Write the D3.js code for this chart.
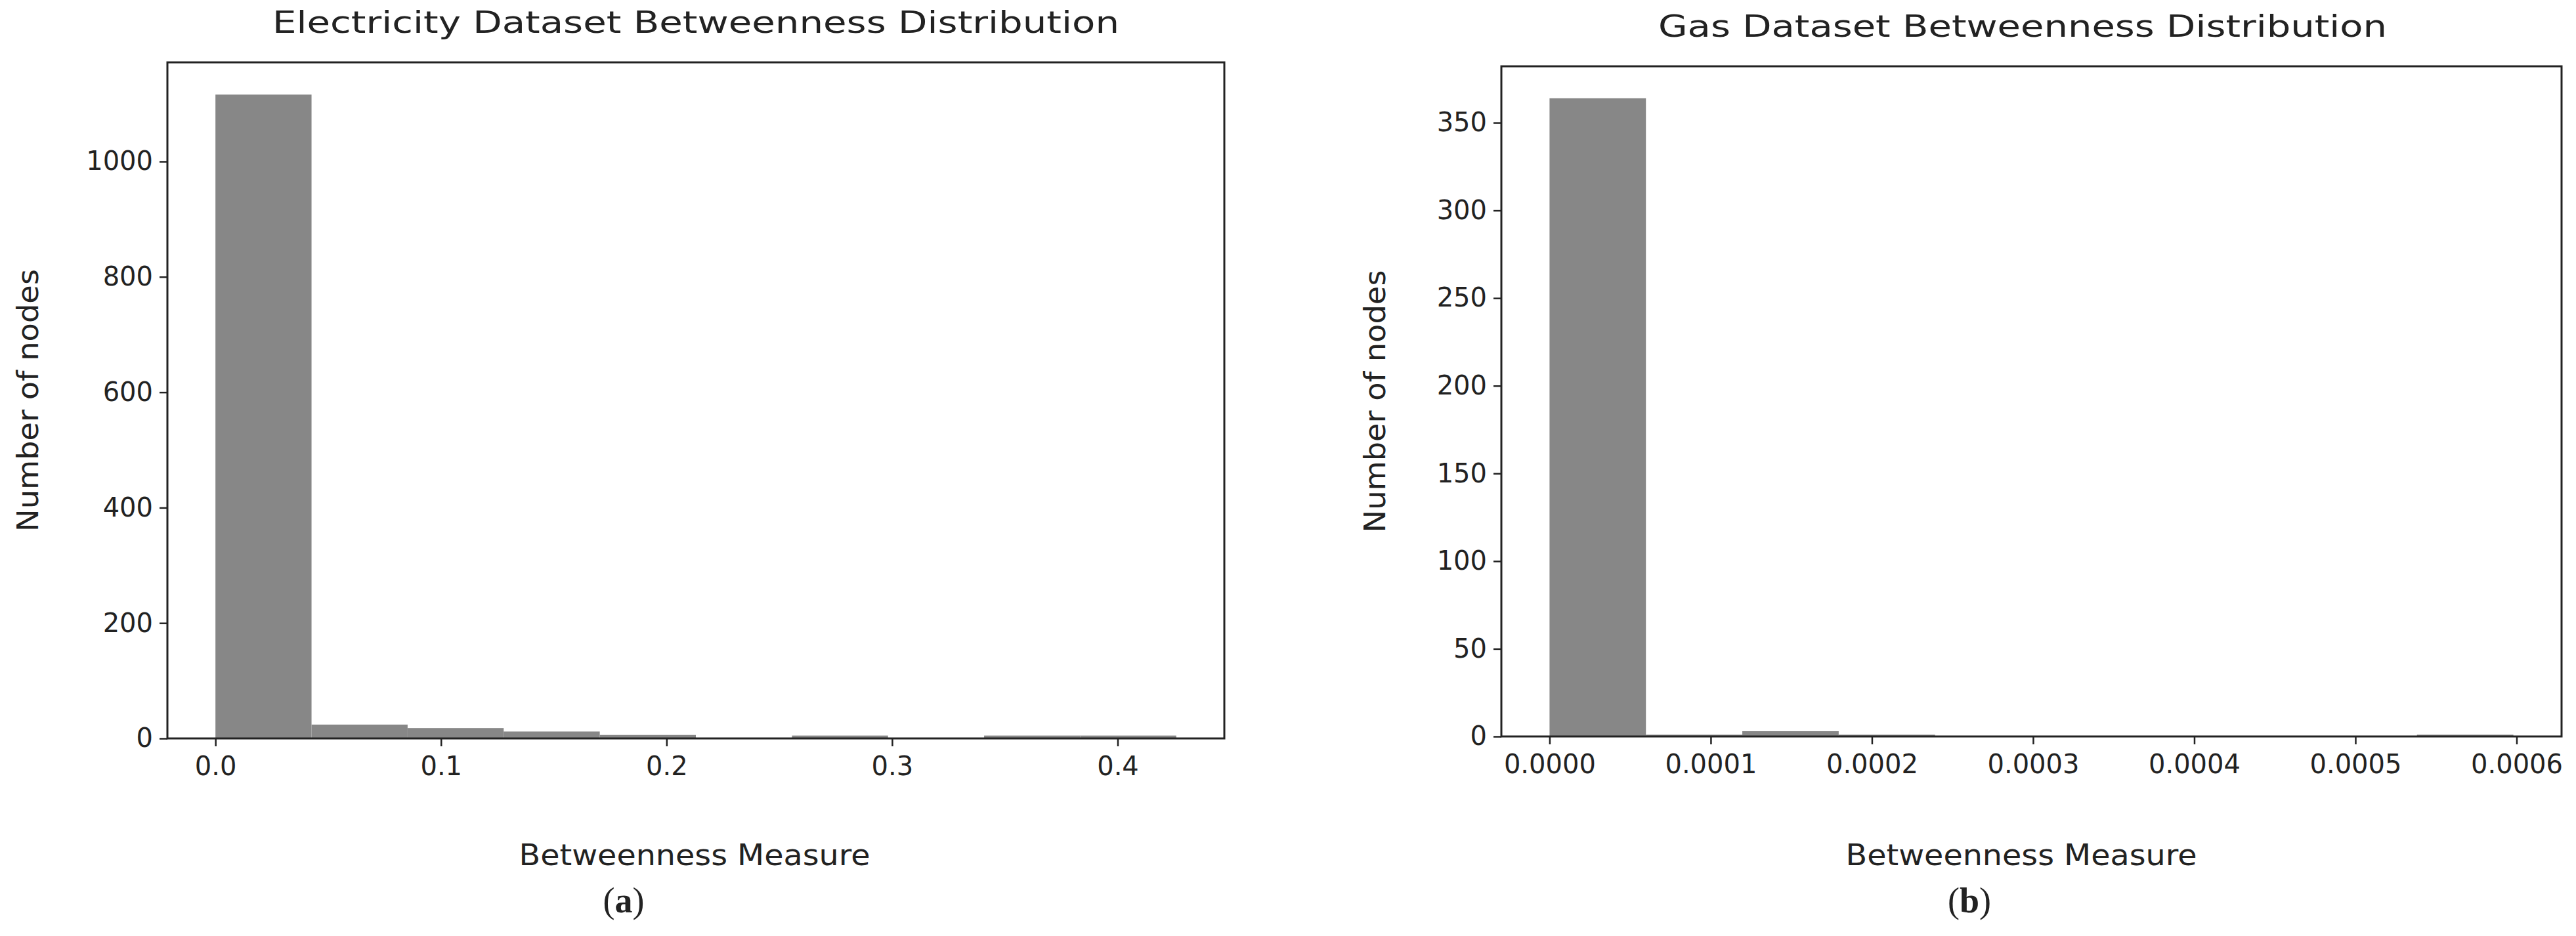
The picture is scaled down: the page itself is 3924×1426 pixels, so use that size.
<!DOCTYPE html><html><head><meta charset="utf-8">
<script src="https://cdn.jsdelivr.net/npm/d3@7"></script>
<style>body{margin:0;background:#fff}text{font-family:"DejaVu Sans";fill:#222}</style></head><body>
<svg id="c" width="3924" height="1426"></svg>
<script>
const elecCounts=[1116,24,18,12,6,1,5,1,5,5];
const elecMax=0.426;
const elecTicks=[0,0.1,0.2,0.3,0.4];
const elecYTicks=[0,200,400,600,800,1000];
const gasCounts=[364,1,3,1,0,0,0,0,0,1];
const gasMax=0.000598;
const gasTicks=[0,0.0001,0.0002,0.0003,0.0004,0.0005,0.0006];
const gasYTicks=[0,50,100,150,200,250,300,350];
const svg=d3.select("#c");
function panel(o){
  const g=svg.append("g");
  const m=o.max*0.05;
  const x=d3.scaleLinear().domain([-m,o.max+m]).range([o.x0,o.x1]);
  const ymax=d3.max(o.counts)*1.05;
  const y=d3.scaleLinear().domain([0,ymax]).range([o.y1,o.y0]);
  const w=o.max/o.counts.length;
  g.selectAll("rect.b").data(o.counts).join("rect")
   .attr("x",(d,i)=>x(i*w)).attr("width",(d,i)=>x((i+1)*w)-x(i*w))
   .attr("y",d=>y(d)).attr("height",d=>y(0)-y(d)).attr("fill","#878787");
  g.append("rect").attr("x",o.x0).attr("y",o.y0).attr("width",o.x1-o.x0).attr("height",o.y1-o.y0)
   .attr("fill","none").attr("stroke","#222").attr("stroke-width",3);
  const xa=g.append("g").attr("transform",`translate(0,${o.y1})`)
   .call(d3.axisBottom(x).tickValues(o.xt).tickFormat(o.fmt).tickSize(12).tickPadding(16));
  const ya=g.append("g").attr("transform",`translate(${o.x0},0)`)
   .call(d3.axisLeft(y).tickValues(o.yt).tickFormat(d3.format("d")).tickSize(12).tickPadding(10));
  [xa,ya].forEach(a=>{a.select(".domain").remove();a.selectAll("line").attr("stroke","#222").attr("stroke-width",2.5);
    a.selectAll("text").style("font-family","DejaVu Sans").style("font-size","40px").attr("fill","#222");});
  g.append("text").attr("x",o.tx).attr("y",o.y0-45).attr("text-anchor","middle").style("font-size","46px")
   .attr("textLength",o.tw).attr("lengthAdjust","spacingAndGlyphs").text(o.title);
  g.append("text").attr("x",o.lx).attr("y",1318).attr("text-anchor","middle").style("font-size","44px")
   .attr("textLength",535).attr("lengthAdjust","spacingAndGlyphs").text("Betweenness Measure");
  g.append("text").attr("transform",`translate(${o.yl},${(o.y0+o.y1)/2}) rotate(-90)`).attr("text-anchor","middle").style("font-size","45px")
   .attr("textLength",400).attr("lengthAdjust","spacingAndGlyphs").text("Number of nodes");
  g.append("text").attr("x",o.cap).attr("y",1390).attr("text-anchor","middle").style("font-family","Liberation Serif").style("font-size","54px")
   .html(`(<tspan font-weight="bold">${o.letter}</tspan>)`);
}
panel({counts:elecCounts,max:elecMax,xt:elecTicks,yt:elecYTicks,fmt:d3.format(".1f"),x0:255,x1:1865,y0:95,y1:1125,
  title:"Electricity Dataset Betweenness Distribution",tx:1060,tw:1290,lx:1058,yl:58,cap:950,letter:"a"});
panel({counts:gasCounts,max:gasMax,xt:gasTicks,yt:gasYTicks,fmt:d3.format(".4f"),x0:2287,x1:3902,y0:101,y1:1122,
  title:"Gas Dataset Betweenness Distribution",tx:3081,tw:1110,lx:3079,yl:2110,cap:3000,letter:"b"});
</script></body></html>
